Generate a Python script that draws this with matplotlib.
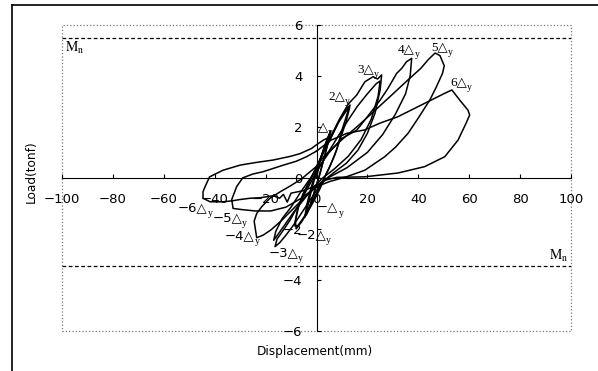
#necessary imports
import matplotlib
matplotlib.use('Agg')
import matplotlib.pyplot as plt
from matplotlib.patches import Rectangle
from matplotlib.lines import Line2D

plt.rcParams['font.family'] = ['DejaVu Sans']
plt.rcParams['mathtext.fontset'] = 'stix'

#hysteresis cycles (displacement mm, load tonf)
c1a_x = [0, 1.5, 3.0, 4.5, 5.2, 4.2, 2.5, 1.0, -1.0, -2.5, -4.0, -3.2, -2.0, -0.5, 0.8]
c1a_y = [0, 0.7, 1.2, 1.6, 1.75, 1.25, 0.6, 0.05, -0.6, -1.1, -1.45, -1.0, -0.5, 0.05, 0.5]

c1b_x = [0.8, 2.2, 3.8, 5.6, 4.6, 2.9, 1.2, -1.3, -3.0, -4.6, -3.8, -2.4, -0.9, 0.6]
c1b_y = [0.5, 0.95, 1.4, 1.85, 1.4, 0.75, 0.1, -0.7, -1.2, -1.55, -1.05, -0.5, 0.05, 0.55]

c2a_x = [0.6, 2.5, 5.3, 8.4, 11.0, 13.2, 12.0, 10.4, 7.9, 5.5, 4.0, 1.5, -1.0, -3.5, -6.0, -8.0, -8.3, -7.0, -5.0, -3.0, -1.0, 0.5]
c2a_y = [0.55, 1.0, 1.5, 2.15, 2.6, 2.86, 2.5, 2.0, 1.1, 0.5, 0.2, -0.4, -0.9, -1.35, -1.75, -2.0, -1.7, -1.1, -0.6, -0.2, 0.2, 0.5]

c2b_x = [0.5, 3.0, 5.8, 8.8, 11.5, 13.0, 11.6, 9.6, 7.2, 4.8, 2.5, 0.0, -2.5, -5.0, -7.5, -8.6, -7.6, -5.6, -3.2, -1.2, 0.5]
c2b_y = [0.5, 1.05, 1.6, 2.2, 2.6, 2.75, 2.2, 1.6, 0.9, 0.35, -0.1, -0.6, -1.1, -1.55, -1.9, -1.85, -1.3, -0.7, -0.2, 0.2, 0.55]

c3a_x = [0.5, 3.0, 6.0, 9.0, 12.5, 15.8, 19.0, 22.2, 24.0, 25.6, 25.0, 23.0, 20.0, 16.3, 11.8, 6.6, 3.0, 0.0, -3.0, -6.0, -9.0, -12.0, -14.5, -16.3, -15.5, -13.0, -10.4, -7.0, -4.0, -1.0, 0.5]
c3a_y = [0.5, 1.1, 1.7, 2.3, 2.9, 3.25, 3.77, 3.97, 3.88, 4.04, 3.45, 2.54, 1.75, 1.09, 0.58, 0.19, -0.1, -0.5, -0.95, -1.4, -1.85, -2.25, -2.55, -2.7, -2.4, -2.05, -1.66, -1.05, -0.5, 0.05, 0.3]

c3b_x = [0.5, 4.0, 8.0, 12.0, 16.0, 20.0, 23.5, 25.0, 24.2, 21.5, 17.5, 12.5, 7.0, 2.5, -1.5, -5.0, -9.0, -12.5, -15.0, -16.8, -16.0, -13.5, -10.0, -6.5, -3.0, 0.0]
c3b_y = [0.3, 0.9, 1.55, 2.2, 2.8, 3.3, 3.7, 3.8, 3.2, 2.3, 1.5, 0.85, 0.35, 0.0, -0.4, -0.85, -1.35, -1.85, -2.2, -2.45, -2.1, -1.6, -1.15, -0.6, -0.1, 0.3]

c4_x = [0.0, 5.0, 10.0, 15.8, 20.0, 25.0, 28.0, 31.5, 33.5, 35.4, 37.4, 36.8, 35.0, 31.0, 26.0, 20.0, 12.0, 5.3, 0.0, -5.0, -10.0, -14.0, -18.0, -21.0, -23.5, -24.5, -23.5, -21.5, -18.3, -14.3, -10.0, -6.0, -3.0, 0.0]
c4_y = [0.3, 1.0, 1.55, 1.87, 2.4, 3.05, 3.5, 4.1, 4.3, 4.56, 4.69, 4.0, 3.3, 2.5, 1.7, 1.0, 0.4, 0.04, -0.35, -0.8, -1.3, -1.7, -2.05, -2.25, -2.35, -1.7, -1.4, -1.13, -0.8, -0.55, -0.3, -0.05, 0.2, 0.45]

c5_x = [0.0, 3.0, 10.0, 17.0, 23.0, 29.0, 36.0, 41.0, 44.0, 46.6, 48.5, 50.2, 49.5, 47.0, 44.5, 40.0, 36.0, 31.0, 26.8, 19.0, 12.0, 5.0, 0.0, -6.0, -12.0, -18.0, -24.0, -29.0, -32.8, -33.3, -31.4, -29.0, -25.0, -21.0, -13.0, -8.0, -3.9, 0.0]
c5_y = [0.45, 0.85, 1.5, 2.1, 2.65, 3.2, 3.85, 4.3, 4.65, 4.9, 4.8, 4.4, 4.1, 3.55, 3.05, 2.35, 1.75, 1.2, 0.83, 0.3, 0.05, -0.15, -0.35, -0.8, -1.15, -1.3, -1.3, -1.25, -1.2, -0.85, -0.35, 0.0, 0.15, 0.24, 0.5, 0.65, 0.83, 1.05]

c6_x = [0.0, 5.7, 12.0, 18.9, 25.0, 32.0, 38.0, 45.0, 50.0, 53.2, 56.3, 59.5, 60.2, 58.8, 55.6, 50.4, 42.5, 32.0, 18.9, 8.0, 3.0, 0.0, -5.0, -10.0, -11.5, -13.0, -14.5, -17.0, -22.0, -26.0, -30.0, -33.0, -36.7, -41.8, -44.6, -44.6, -43.8, -42.0, -36.7, -30.0, -24.0, -17.0, -10.0, -6.5, -2.0, 0.0, 3.0, 5.3]
c6_y = [1.05, 1.48, 1.75, 1.88, 2.15, 2.4, 2.7, 3.05, 3.3, 3.45, 3.05, 2.66, 2.47, 2.15, 1.48, 0.83, 0.44, 0.19, 0.04, 0.02, -0.1, -0.3, -0.5, -0.6, -0.95, -0.65, -0.8, -0.7, -0.78, -0.8, -0.85, -0.9, -0.94, -0.94, -0.8, -0.55, -0.35, 0.04, 0.3, 0.5, 0.6, 0.7, 0.85, 0.95, 1.15, 1.3, 1.5, 1.6]

cycles = [(c1a_x, c1a_y), (c1b_x, c1b_y), (c2a_x, c2a_y), (c2b_x, c2b_y),
          (c3a_x, c3a_y), (c3b_x, c3b_y), (c4_x, c4_y), (c5_x, c5_y), (c6_x, c6_y)]

#nominal strength lines
mn_pos = 5.5
mn_neg = -3.45

#peak labels (multiples of yield displacement)
peak_mult = ['', '2', '3', '4', '5', '6', '−', '−2', '−3', '−4', '−5', '−6']
peak_x = [0.6, 4.5, 16.0, 32.0, 45.0, 52.5, 0.2, -8.0, -19.0, -36.0, -41.0, -54.4]
peak_y = [1.95, 3.17, 4.23, 5.02, 5.1, 3.72, -1.19, -2.25, -2.95, -2.28, -1.58, -1.19]

x_ticks = list(range(-100, 101, 20))
y_ticks = list(range(-6, 7, 2))

#figure
fig = plt.figure(figsize=(5.98, 3.71), dpi=100)
ax = fig.add_axes([62/598, 1-330.7/371, (571-62)/598, (330.7-25)/371])

for cx, cy in cycles:
    ax.plot(cx, cy, color='black', lw=1.1)

ax.axhline(mn_pos, color='black', ls=(0, (3, 2)), lw=0.9)
ax.axhline(mn_neg, color='black', ls=(0, (3, 2)), lw=0.9)

ax.set_xlim(-100, 100)
ax.set_ylim(-6, 6)

#axes through the origin
ax.spines['left'].set_position(('data', 0))
ax.spines['bottom'].set_position(('data', 0))
ax.spines['top'].set_visible(False)
ax.spines['right'].set_visible(False)
ax.add_patch(Rectangle((0, 0), 1, 1, transform=ax.transAxes, fill=False,
                       ec='#777777', ls=':', lw=0.9, clip_on=False))

ax.set_xticks(x_ticks)
ax.set_yticks(y_ticks)
ax.set_xticklabels([str(v).replace('-', '−') for v in x_ticks])
ax.set_yticklabels([str(v).replace('-', '−') for v in y_ticks])
ax.tick_params(axis='x', direction='in', length=3, pad=11, labelsize=9.5)
ax.tick_params(axis='y', direction='in', length=3, pad=10, labelsize=9.5)

#Mn labels
ax.text(-98.8, 5.42, r'$\mathrm{M_n}$', math_fontfamily='stix', fontsize=10, ha='left', va='top')
ax.text(98.8, -3.38, r'$\mathrm{M_n}$', math_fontfamily='stix', fontsize=10, ha='right', va='bottom')

#ductility labels: multiple + triangle, then a small subscript y
for m, px, py in zip(peak_mult, peak_x, peak_y):
    if m.startswith('−'):
        fam = ['DejaVu Sans']
    else:
        fam = ['Liberation Serif', 'DejaVu Sans']
    t = ax.text(px, py, m + '△', family=fam, fontsize=9.5, ha='left', va='center')
    ax.annotate('y', xy=(1.0, 0.1), xycoords=t, family='Liberation Serif',
                fontsize=7, ha='left', va='center')

#axis labels
fig.text(31/598, 1-172/371, 'Load(tonf)', rotation=90, ha='center', va='center', fontsize=8.7)
fig.text(315/598, 1-352/371, 'Displacement(mm)', ha='center', va='center', fontsize=8.7)

#outer frame lines
fig.add_artist(Line2D([12/598, 1], [1-5/371, 1-5/371], color='black', lw=1.2))
fig.add_artist(Line2D([12/598, 12/598], [0, 1-5/371], color='black', lw=1.2))

fig.savefig('out.png', dpi=100)
